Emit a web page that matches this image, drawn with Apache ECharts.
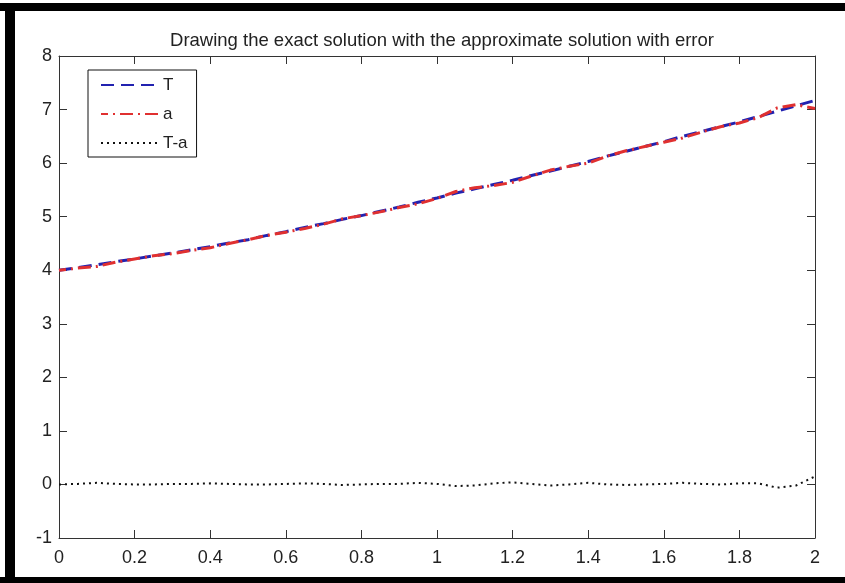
<!DOCTYPE html>
<html>
<head>
<meta charset="utf-8">
<script src="https://cdn.jsdelivr.net/npm/echarts@6/dist/echarts.min.js"></script>
<style>
  html, body { margin: 0; padding: 0; background: #fff; }
  #chart { width: 845px; height: 583px; }
</style>
</head>
<body>
<div id="chart"></div>
<script>
// ---- data ----
const xValues = [0, 0.05, 0.1, 0.15, 0.2, 0.25, 0.3, 0.35, 0.4, 0.45, 0.5, 0.55, 0.6, 0.65, 0.7, 0.75, 0.8, 0.85, 0.9, 0.95,
                 1.0, 1.05, 1.1, 1.15, 1.2, 1.25, 1.3, 1.35, 1.4, 1.45, 1.5, 1.55, 1.6, 1.65, 1.7, 1.75, 1.8, 1.85, 1.9, 1.95, 2.0];
const exactT = [4.00, 4.05, 4.10, 4.16, 4.21, 4.27, 4.32, 4.38, 4.44, 4.51, 4.57, 4.65, 4.72, 4.80, 4.87, 4.95, 5.02, 5.10, 5.18, 5.27,
                5.35, 5.44, 5.52, 5.60, 5.68, 5.77, 5.85, 5.94, 6.03, 6.13, 6.22, 6.31, 6.40, 6.50, 6.59, 6.68, 6.77, 6.87, 6.97, 7.07, 7.17];
const approxA = [4.00, 4.04, 4.07, 4.15, 4.21, 4.27, 4.31, 4.37, 4.42, 4.50, 4.57, 4.65, 4.71, 4.78, 4.86, 4.96, 5.02, 5.09, 5.17, 5.24,
                 5.34, 5.47, 5.54, 5.58, 5.64, 5.76, 5.87, 5.94, 6.00, 6.13, 6.23, 6.31, 6.39, 6.47, 6.58, 6.68, 6.75, 6.85, 7.03, 7.09, 7.02];
const errorTa = [0.00, 0.01, 0.03, 0.01, 0.00, 0.00, 0.01, 0.01, 0.02, 0.01, 0.00, 0.00, 0.01, 0.02, 0.01, -0.01, 0.00, 0.01, 0.01, 0.03,
                 0.01, -0.03, -0.02, 0.02, 0.04, 0.01, -0.02, 0.00, 0.03, 0.00, -0.01, 0.00, 0.01, 0.03, 0.01, 0.00, 0.02, 0.02, -0.06, -0.02, 0.15];
const seriesNames = ['T', 'a', 'T-a'];
const titleText = 'Drawing the exact solution with the approximate solution with error';

const pairs = (ys) => xValues.map((x, i) => [x, ys[i]]);

const FONT = '"Liberation Sans", Arial, sans-serif';
const TXT = '#222';
const AX = '#333';

const chart = echarts.init(document.getElementById('chart'), null, { renderer: 'canvas' });

const baseAxis = {
  axisLine: { show: true, onZero: false, lineStyle: { color: AX, width: 1 } },
  axisTick: { show: true, inside: true, length: 8, lineStyle: { color: AX, width: 1 } },
  splitLine: { show: false }
};

chart.setOption({
  backgroundColor: '#fff',
  animation: false,
  title: {
    text: titleText,
    left: 437,
    textAlign: 'center',
    top: 26,
    textStyle: { fontFamily: FONT, fontSize: 18.5, fontWeight: 'normal', color: TXT }
  },
  legend: {
    orient: 'vertical',
    left: 88,
    top: 70,
    data: seriesNames,
    itemWidth: 57,
    itemHeight: 14,
    itemGap: 11,
    padding: [6, 9, 5, 12],
    borderColor: '#111',
    borderWidth: 1,
    backgroundColor: '#fff',
    itemStyle: { opacity: 0, borderWidth: 0 },
    textStyle: { fontFamily: FONT, fontSize: 17, color: TXT, lineHeight: 18 }
  },
  grid: { left: 59, top: 56, right: 30, bottom: 45, containLabel: false },
  xAxis: [
    Object.assign({}, baseAxis, {
      type: 'value', position: 'bottom', min: 0, max: 2, interval: 0.2,
      axisLabel: { show: true, margin: 11, color: TXT, fontFamily: FONT, fontSize: 18 }
    }),
    Object.assign({}, baseAxis, {
      type: 'value', position: 'top', min: 0, max: 2, interval: 0.2,
      axisLabel: { show: false }
    })
  ],
  yAxis: [
    Object.assign({}, baseAxis, {
      type: 'value', position: 'left', min: -1, max: 8, interval: 1,
      axisLabel: { show: true, margin: 7, color: TXT, fontFamily: FONT, fontSize: 18 }
    }),
    Object.assign({}, baseAxis, {
      type: 'value', position: 'right', min: -1, max: 8, interval: 1,
      axisLabel: { show: false }
    })
  ],
  series: [
    {
      name: 'T', type: 'line', xAxisIndex: 0, yAxisIndex: 0,
      data: pairs(exactT), symbol: 'none', smooth: false,
      lineStyle: { color: '#2222b0', width: 3, type: [13, 7] },
      itemStyle: { color: '#2222b0' }
    },
    {
      name: 'a', type: 'line', xAxisIndex: 0, yAxisIndex: 0,
      data: pairs(approxA), symbol: 'none', smooth: false,
      lineStyle: { color: '#e03030', width: 3, type: [13, 5, 2, 5], dashOffset: 6 },
      itemStyle: { color: '#e03030' }
    },
    {
      name: 'T-a', type: 'line', xAxisIndex: 0, yAxisIndex: 0,
      data: pairs(errorTa), symbol: 'none', smooth: false,
      lineStyle: { color: '#111', width: 2, type: [2, 4] },
      itemStyle: { color: '#111' }
    }
  ],
  graphic: [
    { type: 'rect', left: 0, top: 3, shape: { width: 845, height: 8 }, style: { fill: '#000' }, silent: true },
    { type: 'rect', left: 5, top: 3, shape: { width: 10, height: 580 }, style: { fill: '#000' }, silent: true },
    { type: 'rect', left: 0, top: 577, shape: { width: 845, height: 6 }, style: { fill: '#000' }, silent: true }
  ]
});
</script>
</body>
</html>
